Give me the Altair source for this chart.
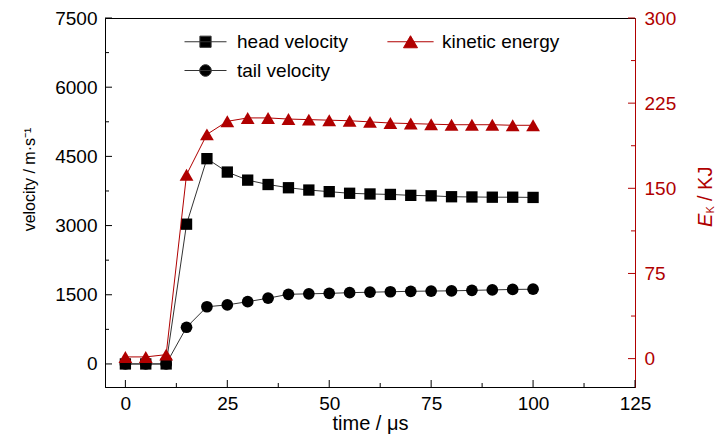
import altair as alt
import pandas as pd

FONT = "Liberation Sans"
RED = "#b00000"

# time in microseconds
time_us = [0, 5, 10, 15, 20, 25, 30, 35, 40, 45, 50, 55, 60, 65, 70, 75, 80, 85, 90, 95, 100]
head_velocity = [0, 0, 0, 3030, 4450, 4160, 3985, 3890, 3820, 3770, 3735, 3700, 3685, 3675,
                 3655, 3645, 3625, 3620, 3615, 3615, 3610]
tail_velocity = [0, 0, 0, 795, 1240, 1280, 1350, 1425, 1510, 1520, 1530, 1545, 1555, 1565,
                 1575, 1580, 1585, 1595, 1605, 1615, 1620]
kinetic_energy = [1.5, 1.5, 3.5, 162, 197.5, 209, 212, 212, 211, 210.5, 210, 209.5, 208.5,
                  207.5, 207, 206.5, 206, 206, 206, 205.5, 205.5]

series_names = ["head velocity", "tail velocity", "kinetic energy"]
series_fill = ["#000000", "#000000", RED]
series_line = ["#333333", "#333333", RED]

x_ticks = [0, 25, 50, 75, 100, 125]
x_minor = [12.5, 37.5, 62.5, 87.5, 112.5]
v_ticks = [0, 1500, 3000, 4500, 6000, 7500]
v_minor = [750, 2250, 3750, 5250, 6750]
e_ticks = [0, 75, 150, 225, 300]
e_minor = [37.5, 112.5, 187.5, 262.5]

W, H = 530, 369

df = pd.DataFrame({"time": time_us, "head": head_velocity,
                   "tail": tail_velocity, "energy": kinetic_energy})

x_scale = alt.Scale(domain=[-5, 125], nice=False, zero=False)
v_scale = alt.Scale(domain=[-500, 7500], nice=False, zero=False)
e_scale = alt.Scale(domain=[-25, 300], nice=False, zero=False)

# every layer repeats the same axis, so the shared axes merge cleanly
x_axis = alt.Axis(values=x_ticks, format="d", title="time / μs", labelPadding=7,
                  titlePadding=0, titleFontSize=20, labelFlush=False, labelOverlap=False)
v_axis = alt.Axis(values=v_ticks, format="d", title="velocity / m·s⁻¹", labelPadding=8,
                  titleFontSize=16, titleAngle=270, titleX=-76, titleY=161,
                  titleAlign="center", titleBaseline="middle", labelOverlap=False)
e_axis = alt.Axis(orient="right", values=e_ticks, format="d", title="", labelPadding=9,
                  domainColor=RED, labelColor=RED, labelOverlap=False)


def X(field):
    return alt.X(field, type="quantitative", scale=x_scale, axis=x_axis)


def VY(field):
    return alt.Y(field, type="quantitative", scale=v_scale, axis=v_axis)


def EY(field):
    return alt.Y(field, type="quantitative", scale=e_scale, axis=e_axis)


base = alt.Chart(df)

head_line = base.mark_line(color="#333333", strokeWidth=1).encode(x=X("time"), y=VY("head"))
head_pts = base.mark_point(shape="square", filled=True, size=128, color="black",
                           opacity=1).encode(x=X("time"), y=VY("head"))
tail_line = base.mark_line(color="#333333", strokeWidth=1).encode(x=X("time"), y=VY("tail"))
tail_pts = base.mark_point(shape="circle", filled=True, size=137, color="black",
                           opacity=1).encode(x=X("time"), y=VY("tail"))


def ticks(values, length, color, kind):
    c = alt.Chart(pd.DataFrame({"v": values})).mark_rule(color=color, strokeWidth=1)
    if kind == "x":
        return c.encode(x=X("v"), y=alt.value(H), y2=alt.value(H - length))
    if kind == "v":
        return c.encode(y=VY("v"), x=alt.value(0), x2=alt.value(length))
    return c.encode(y=EY("v"), x=alt.value(W), x2=alt.value(W - length))


velocity = alt.layer(
    head_line, tail_line, head_pts, tail_pts,
    ticks(x_ticks, 7, "black", "x"), ticks(x_minor, 4, "black", "x"),
    ticks(v_ticks, 7, "black", "v"), ticks(v_minor, 4, "black", "v"),
)

e_line = base.mark_line(color=RED, strokeWidth=1).encode(x=X("time"), y=EY("energy"))
e_pts = base.mark_point(shape="triangle-up", filled=True, size=190, color=RED,
                        opacity=1).encode(x=X("time"), y=EY("energy"))

energy = alt.layer(e_line, e_pts, ticks(e_ticks, 7, RED, "e"), ticks(e_minor, 4, RED, "e"))

# legend symbols: a short line with the marker in the middle
legend_paths = [
    "M-3,0H3M-0.8,-0.8H0.8V0.8H-0.8Z",
    "M-3,0H3M-0.83,0A0.83,0.83,0,1,0,0.83,0A0.83,0.83,0,1,0,-0.83,0Z",
    "M-3.3,0H3.3M0,-0.86L1,0.86H-1Z",
]
legend_layer = alt.Chart(pd.DataFrame({"series": series_names})).mark_point(
    filled=True, strokeWidth=1, opacity=1).transform_filter("false").encode(
    color=alt.Color("series:N", scale=alt.Scale(domain=series_names, range=series_fill),
                    legend=alt.Legend(orient="none", legendX=91, legendY=14, columns=2,
                                      title=None, symbolSize=196, labelFontSize=19,
                                      labelOffset=22, columnPadding=37, rowPadding=9,
                                      labelLimit=300, padding=0, symbolStrokeWidth=1,
                                      symbolOpacity=1)),
    stroke=alt.Stroke("series:N", scale=alt.Scale(domain=series_names, range=series_line)),
    shape=alt.Shape("series:N", scale=alt.Scale(domain=series_names, range=legend_paths)),
)

# right axis title: italic E with a small subscript K
one = pd.DataFrame({"s": [0]})
title_e = alt.Chart(one).mark_text(
    text="E", font=FONT, fontSize=20, fontStyle="italic", angle=270,
    align="left", baseline="alphabetic", color=RED).encode(
    x=alt.value(607), y=alt.value(209))
title_k = alt.Chart(one).mark_text(
    text="K", font=FONT, fontSize=11, angle=270,
    align="left", baseline="alphabetic", color=RED).encode(
    x=alt.value(609), y=alt.value(195.5))
title_rest = alt.Chart(one).mark_text(
    text="/ KJ", font=FONT, fontSize=20, angle=270,
    align="left", baseline="alphabetic", color=RED).encode(
    x=alt.value(607), y=alt.value(183))

chart = alt.layer(
    velocity, energy, legend_layer, title_e, title_k, title_rest
).resolve_scale(
    y="independent"
).properties(
    width=W, height=H,
    autosize=alt.AutoSizeParams(type="none"),
    padding={"left": 97, "top": 10, "right": 80, "bottom": 47},
    background="white",
).configure_view(
    stroke="black", strokeWidth=1
).configure_axis(
    grid=False, ticks=False, labelFont=FONT, titleFont=FONT, labelFontSize=19,
    titleFontWeight="normal", labelColor="black", titleColor="black",
    domainColor="black", domainWidth=1,
).configure_legend(
    labelFont=FONT, labelColor="black",
)

chart.save("out.html", embed_options={"renderer": "svg", "actions": False})
